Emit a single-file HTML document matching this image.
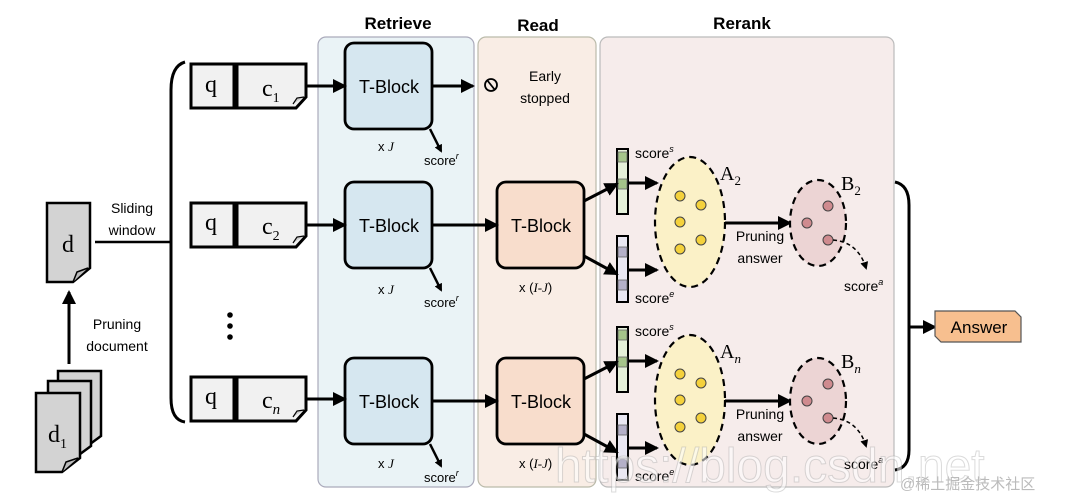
<!DOCTYPE html>
<html><head><meta charset="utf-8"><style>
body{margin:0;background:#fff}
svg{display:block;font-family:"Liberation Sans",sans-serif}
.s{font-family:"Liberation Serif",serif}
</style></head><body>
<svg width="1068" height="494" viewBox="0 0 1068 494" xmlns="http://www.w3.org/2000/svg">
<defs>
<marker id="ah" markerWidth="8" markerHeight="8" refX="6" refY="4" orient="auto" markerUnits="userSpaceOnUse"><path d="M0,0 L8,4 L0,8 z" fill="#000"/></marker>
<marker id="ab" markerWidth="14" markerHeight="14" refX="12" refY="7" orient="auto" markerUnits="userSpaceOnUse"><path d="M0,0 L14,7 L0,14 z" fill="#000"/></marker>
<g id="yel"><ellipse cx="0" cy="0" rx="35" ry="65" fill="#fbf1c7" stroke="#000" stroke-width="2.2" stroke-dasharray="7,5"/>
<g fill="#f4d13c" stroke="#444" stroke-width="1"><circle cx="-10" cy="-26" r="5"/><circle cx="11" cy="-17" r="5"/><circle cx="-10" cy="0" r="5"/><circle cx="11" cy="18" r="5"/><circle cx="-10" cy="27" r="5"/></g></g>
<g id="pink"><ellipse cx="0" cy="0" rx="28" ry="43" fill="#ecd4d4" stroke="#000" stroke-width="2.2" stroke-dasharray="7,5"/>
<g fill="#cf8b8f" stroke="#444" stroke-width="1"><circle cx="10" cy="-17" r="5"/><circle cx="-11" cy="0" r="5"/><circle cx="10" cy="17" r="5"/></g></g>
</defs>
<!-- panels -->
<rect x="318" y="37" width="156" height="450" rx="8" fill="#eaf3f6" stroke="#aab" stroke-width="1.2"/>
<rect x="478" y="37" width="118" height="450" rx="8" fill="#f9ede5" stroke="#bba" stroke-width="1.2"/>
<rect x="600" y="37" width="294" height="450" rx="8" fill="#f6eceb" stroke="#bbb" stroke-width="1.2"/>
<g font-weight="bold" font-size="17" text-anchor="middle"><text x="398" y="29">Retrieve</text><text x="538" y="31">Read</text><text x="742" y="29">Rerank</text></g>

<!-- left docs -->
<path d="M47,203 H90 V268 L73,282 H47 Z" fill="#d3d3d3" stroke="#000" stroke-width="2.5"/>
<path d="M73,282 L77,272 L88,268" fill="#bbb" stroke="#000" stroke-width="1.5"/>
<text x="68" y="252" class="s" font-size="24" text-anchor="middle">d</text>
<line x1="95" y1="242" x2="172" y2="242" stroke="#000" stroke-width="2.5"/>
<g font-size="14" text-anchor="middle"><text x="132" y="213">Sliding</text><text x="132" y="235">window</text>
<text x="117" y="329">Pruning</text><text x="117" y="351">document</text></g>
<line x1="69" y1="364" x2="69" y2="292" stroke="#000" stroke-width="3" marker-end="url(#ab)"/>
<path d="M58,371 H101 V436 L86,447 H58 Z" fill="#d3d3d3" stroke="#000" stroke-width="2.5"/>
<path d="M48,381 H91 V446 L76,457 H48 Z" fill="#d3d3d3" stroke="#000" stroke-width="2.5"/>
<path d="M36,393 H80 V458 L62,472 H36 Z" fill="#d3d3d3" stroke="#000" stroke-width="2.5"/>
<path d="M62,472 L66,462 L78,458" fill="#bbb" stroke="#000" stroke-width="1.5"/>
<text x="48" y="442" class="s" font-size="24">d<tspan font-size="14" dy="6">1</tspan></text>
<!-- brace -->
<path d="M185,62 Q171,66 171,90 V398 Q171,420 185,422" fill="none" stroke="#000" stroke-width="3"/>
<g fill="#000"><circle cx="230" cy="315" r="2.8"/><circle cx="230" cy="326" r="2.8"/><circle cx="230" cy="337" r="2.8"/></g>

<!-- q/c rows -->
<g id="r1">
<rect x="191" y="64" width="43" height="44" fill="#f1f1f1" stroke="#000" stroke-width="3"/>
<path d="M237,64 H306 V97 L296,108 H237 Z" fill="#f1f1f1" stroke="#000" stroke-width="3"/>
<path d="M293,104 L297,98 L304,97" fill="#ccc" stroke="#000" stroke-width="1.2"/>
</g>
<use href="#r1" y="139"/><use href="#r1" y="313"/>
<g class="s" font-size="24"><text x="205" y="92">q</text><text x="205" y="230">q</text><text x="205" y="404">q</text>
<text x="262" y="96">c<tspan font-size="14" dy="6">1</tspan></text>
<text x="262" y="234">c<tspan font-size="14" dy="6">2</tspan></text>
<text x="262" y="408">c<tspan font-size="15" dy="6" font-style="italic">n</tspan></text></g>

<!-- retrieve blocks -->
<g fill="#d6e7f0" stroke="#000" stroke-width="2.8">
<rect x="345" y="43" width="87" height="86" rx="9"/><rect x="345" y="182" width="87" height="86" rx="9"/><rect x="345" y="358" width="87" height="86" rx="9"/></g>
<g fill="#f8ddcc" stroke="#000" stroke-width="2.8">
<rect x="497" y="182" width="87" height="86" rx="9"/><rect x="497" y="358" width="87" height="86" rx="9"/></g>
<g font-size="18" text-anchor="middle"><text x="389" y="93">T-Block</text><text x="389" y="232">T-Block</text><text x="389" y="408">T-Block</text>
<text x="541" y="232">T-Block</text><text x="541" y="408">T-Block</text></g>
<g stroke="#000" stroke-width="3" fill="none" marker-end="url(#ab)">
<line x1="307" y1="86" x2="345" y2="86"/><line x1="307" y1="225" x2="345" y2="225"/><line x1="307" y1="399" x2="345" y2="399"/>
<line x1="432" y1="86" x2="473" y2="86"/><line x1="432" y1="225" x2="497" y2="225"/><line x1="432" y1="401" x2="497" y2="401"/>
</g>
<g stroke="#000" stroke-width="2.5" marker-end="url(#ah)">
<line x1="430" y1="129" x2="441" y2="151"/><line x1="430" y1="268" x2="441" y2="290"/><line x1="430" y1="444" x2="441" y2="466"/></g>
<g font-size="13"><text x="378" y="151">x <tspan class="s" font-style="italic">J</tspan></text><text x="378" y="294">x <tspan class="s" font-style="italic">J</tspan></text><text x="378" y="468">x <tspan class="s" font-style="italic">J</tspan></text>
<text x="424" y="165">score<tspan font-size="9" dy="-6" font-style="italic">r</tspan></text>
<text x="424" y="307">score<tspan font-size="9" dy="-6" font-style="italic">r</tspan></text>
<text x="424" y="482">score<tspan font-size="9" dy="-6" font-style="italic">r</tspan></text>
<text x="519" y="292">x (<tspan class="s" font-style="italic">I-J</tspan>)</text>
<text x="519" y="468">x (<tspan class="s" font-style="italic">I-J</tspan>)</text></g>
<circle cx="491" cy="85" r="6" fill="none" stroke="#000" stroke-width="1.8"/><line x1="487" y1="80" x2="495" y2="90" stroke="#000" stroke-width="1.8"/>
<g font-size="14" text-anchor="middle"><text x="545" y="81">Early</text><text x="545" y="103">stopped</text></g>

<!-- rerank rows -->
<g id="rr">
<rect x="617" y="149" width="11" height="65" fill="#e5f0d9" stroke="#000" stroke-width="2"/>
<rect x="618" y="152" width="9" height="10" fill="#a5c48a" stroke="#666" stroke-width=".8"/>
<rect x="618" y="179" width="9" height="10" fill="#a5c48a" stroke="#666" stroke-width=".8"/>
<rect x="617" y="236" width="11" height="66" fill="#e9e7f2" stroke="#000" stroke-width="2"/>
<rect x="618" y="247" width="9" height="10" fill="#b4b0c8" stroke="#666" stroke-width=".8"/>
<rect x="618" y="280" width="9" height="10" fill="#b4b0c8" stroke="#666" stroke-width=".8"/>
<g stroke="#000" stroke-width="3" marker-end="url(#ab)">
<line x1="584" y1="201" x2="617" y2="184"/><line x1="584" y1="256" x2="617" y2="274"/>
<line x1="628" y1="183" x2="657" y2="183"/><line x1="628" y1="270" x2="657" y2="270"/>
<line x1="725" y1="223" x2="790" y2="223"/></g>
<use href="#yel" x="690" y="222"/><use href="#pink" x="818" y="223"/>
<path d="M833,240 Q858,242 866,268" fill="none" stroke="#000" stroke-width="1.5" stroke-dasharray="4,3" marker-end="url(#ah)"/>
<g font-size="14"><text x="635" y="158">score<tspan font-size="9" dy="-6" font-style="italic">s</tspan></text>
<text x="635" y="303">score<tspan font-size="9" dy="-6" font-style="italic">e</tspan></text>
<text x="844" y="291">score<tspan font-size="9" dy="-6" font-style="italic">a</tspan></text>
<text x="760" y="241" text-anchor="middle">Pruning</text><text x="760" y="263" text-anchor="middle">answer</text></g>
</g>
<use href="#rr" y="178"/>
<g class="s" font-size="20"><text x="720" y="180">A<tspan font-size="13" dy="5">2</tspan></text>
<text x="841" y="190">B<tspan font-size="13" dy="5">2</tspan></text>
<text x="720" y="358">A<tspan font-size="13" dy="5" font-style="italic">n</tspan></text>
<text x="841" y="368">B<tspan font-size="13" dy="5" font-style="italic">n</tspan></text></g>

<!-- right brace & answer -->
<path d="M895,182 Q909,185 909,205 V450 Q909,468 895,470" fill="none" stroke="#000" stroke-width="3"/>
<line x1="909" y1="327" x2="935" y2="327" stroke="#000" stroke-width="3" marker-end="url(#ab)"/>
<path d="M935,311 H1015 L1021,317 V342 H941 L935,336 Z" fill="#f7bf8f" stroke="#555" stroke-width="1.2"/>
<text x="979" y="333" font-size="17" text-anchor="middle">Answer</text>
<text x="555" y="482" font-size="48" fill="#ffffff" fill-opacity="0.55" stroke="#999" stroke-opacity="0.35" stroke-width="1">https://blog.csdn.net</text>
<text x="900" y="489" font-size="15" fill="#bbb" font-family="'Liberation Sans','Noto Sans CJK SC',sans-serif">@稀土掘金技术社区</text>
</svg>
</body></html>
